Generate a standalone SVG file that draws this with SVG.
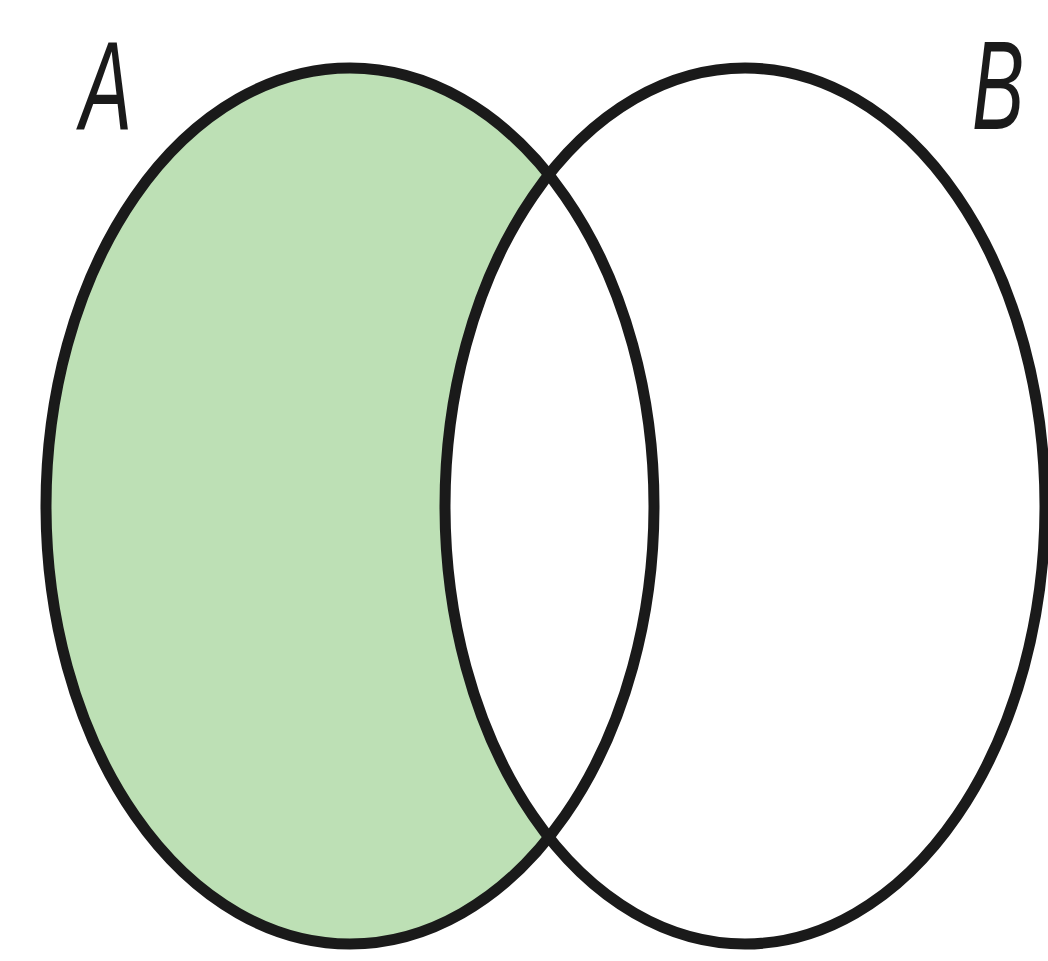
<svg xmlns="http://www.w3.org/2000/svg" width="1048" height="961" viewBox="0 0 1048 961">
<style>
.outline{fill:none;stroke:#1a1a1a;stroke-width:11}
.lbl{font-family:"Liberation Sans",Arial,sans-serif;font-style:italic;font-size:126px;fill:#1a1a1a}
</style>
<defs>
<clipPath id="notB"><path d="M0 0H1048V961H0Z M445 506 A300 438 0 1 0 1045 506 A300 438 0 1 0 445 506Z" clip-rule="evenodd"/></clipPath>
</defs>
<rect width="1048" height="961" fill="#ffffff"/>
<g id="region-A-only">
<ellipse cx="350" cy="506" rx="304" ry="438" fill="#bde0b5" clip-path="url(#notB)"/>
</g>
<g id="set-A">
<ellipse class="outline" cx="350" cy="506" rx="304" ry="438"/>
<text class="lbl" transform="translate(80 129) scale(0.62 1)">A</text>
</g>
<g id="set-B">
<ellipse class="outline" cx="745" cy="506" rx="300" ry="438"/>
<text class="lbl" transform="translate(972 129) scale(0.62 1)">B</text>
</g>
<g id="connectors"/>
</svg>
